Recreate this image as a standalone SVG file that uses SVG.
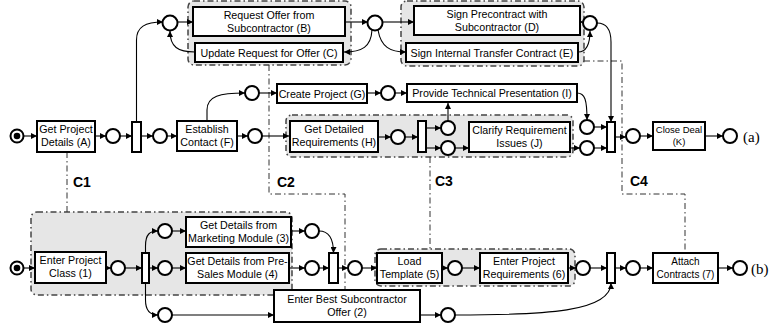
<svg xmlns="http://www.w3.org/2000/svg" width="779" height="336" viewBox="0 0 779 336">
<defs>
<marker id="ah" markerUnits="userSpaceOnUse" markerWidth="6" markerHeight="6" refX="6" refY="3" orient="auto">
<path d="M0,0 L6,3 L0,6 z" fill="#000"/>
</marker>
<style>
.grp{fill:#e6e6e6;stroke:#444;stroke-width:1.5;stroke-dasharray:6 3 1.5 3}
.link{fill:none;stroke:#333;stroke-width:1;stroke-dasharray:6 3 1.5 3}
.box{fill:#fff;stroke:#000;stroke-width:2}
.pl{fill:#fff;stroke:#000;stroke-width:2}
.bar{fill:#fff;stroke:#000;stroke-width:2}
.arc{fill:none;stroke:#000;stroke-width:1.1;marker-end:url(#ah)}
.t{font-family:"Liberation Sans",Arial,sans-serif;font-size:10.7px;text-anchor:middle;fill:#000}
.sm{font-size:9.5px}
.md{font-size:10px}
.lab{font-family:"Liberation Sans",Arial,sans-serif;font-size:14px;font-weight:bold;fill:#000}
.side{font-family:"Liberation Serif","Times New Roman",serif;font-size:15px;fill:#000}
</style>
</defs>
<rect width="779" height="336" fill="#fff"/>

<g id="groups">
<rect class="grp" x="188" y="1" width="163" height="64" rx="6"/>
<rect class="grp" x="401" y="1" width="183" height="65" rx="6"/>
<rect class="grp" x="286" y="115" width="287" height="42" rx="6"/>
<rect class="grp" x="31" y="212" width="261" height="83" rx="6"/>
<rect class="grp" x="375" y="249" width="200" height="37" rx="6"/>
</g>

<g id="correspondences">
<path class="link" d="M67,152 L67,212"/>
<path class="link" d="M269,65 L269,194 L345,194 L345,290"/>
<path class="link" d="M430,157 L430,249"/>
<path class="link" d="M584,61 L622,61 L622,194 L685,194 L685,252"/>
<text class="lab" x="73" y="187">C1</text>
<text class="lab" x="277" y="187">C2</text>
<text class="lab" x="435" y="186">C3</text>
<text class="lab" x="630" y="186">C4</text>
</g>

<g id="connectors">
<path class="arc" d="M24,136 L37,136"/>
<path class="arc" d="M95,136 L106,136"/>
<path class="arc" d="M120,136 L132,136"/>
<path class="arc" d="M141,136 L153,136"/>
<path class="arc" d="M167,136 L177,136"/>
<path class="arc" d="M237,136 L248,136"/>
<path class="arc" d="M262,136 L289,136"/>
<path class="arc" d="M136.5,122 L136.5,40 C136.5,27 145,22 163,22"/>
<path class="arc" d="M195,52 C178,52 170,47 170,31"/>
<path class="arc" d="M177,22 L193,22"/>
<path class="arc" d="M345,22 L368,22"/>
<path class="arc" d="M372,30 C371,47 362,52 344,52"/>
<path class="arc" d="M378,30 C381,47 390,52 406,52"/>
<path class="arc" d="M382,22 L414,22"/>
<path class="arc" d="M580,22 L583,22"/>
<path class="arc" d="M578,52 C586,52 590,45 590,31"/>
<path class="arc" d="M597,23 C607,23 611,30 611,42 L611,122"/>
<path class="arc" d="M207,121 L207,110 C207,96 220,93 245,93"/>
<path class="arc" d="M259,93 L277,93"/>
<path class="arc" d="M367,93 L381,93"/>
<path class="arc" d="M395,93 L407,93"/>
<path class="arc" d="M378,137 L391,137"/>
<path class="arc" d="M405,137 L418,137"/>
<path class="arc" d="M426,128 L441,128"/>
<path class="arc" d="M426,148 L441,148"/>
<path class="arc" d="M448,121 L448,103"/>
<path class="arc" d="M455,148 L469,148"/>
<path class="arc" d="M570,148 L580,148"/>
<path class="arc" d="M577,93 C585,93 587,100 587,120"/>
<path class="arc" d="M594,127 L607,127"/>
<path class="arc" d="M594,148 L607,148"/>
<path class="arc" d="M615,137 L626,137"/>
<path class="arc" d="M640,136 L653,136"/>
<path class="arc" d="M705,136 L723,136"/>
<path class="arc" d="M24,268 L35,268"/>
<path class="arc" d="M106,268 L111,268"/>
<path class="arc" d="M125,268 L142,268"/>
<path class="arc" d="M149,268 L158,268"/>
<path class="arc" d="M145.5,253 L145.5,246 C145.5,234 150,231 158,231"/>
<path class="arc" d="M145.5,283 L145.5,300 C145.5,311 150,315 158,315"/>
<path class="arc" d="M172,231 L186,231"/>
<path class="arc" d="M172,268 L186,268"/>
<path class="arc" d="M291,231 L305,231"/>
<path class="arc" d="M289,268 L305,268"/>
<path class="arc" d="M319,231 C328,231 333.5,238 333.5,253"/>
<path class="arc" d="M319,268 L329,268"/>
<path class="arc" d="M338,268 L348,268"/>
<path class="arc" d="M362,268 L377,268"/>
<path class="arc" d="M442,268 L448,268"/>
<path class="arc" d="M462,268 L480,268"/>
<path class="arc" d="M568,268 L576,268"/>
<path class="arc" d="M590,268 L607,268"/>
<path class="arc" d="M615,268 L626,268"/>
<path class="arc" d="M640,268 L653,268"/>
<path class="arc" d="M718,268 L733,268"/>
<path class="arc" d="M172,315 L274,315"/>
<path class="arc" d="M420,315 L441,315"/>
<path class="arc" d="M455,315 C545,315 611,312 611,283"/>
</g>

<g id="start-a"><circle class="pl" cx="17" cy="136" r="6.5"/><circle cx="17" cy="136" r="3.3" fill="#000"/></g>
<g id="A"><rect class="box" x="37" y="121" width="58" height="31"/><text class="t" x="66" y="133">Get Project</text><text class="t" x="66" y="146">Details (A)</text></g>
<g id="p-a1"><circle class="pl" cx="113" cy="136" r="7"/></g>
<g id="t-a1"><rect class="bar" x="132" y="122" width="9" height="30"/></g>
<g id="p-a2"><circle class="pl" cx="160" cy="136" r="7"/></g>
<g id="F"><rect class="box" x="177" y="121" width="60" height="30"/><text class="t" x="207" y="133">Establish</text><text class="t" x="207" y="146">Contact (F)</text></g>
<g id="p-a3"><circle class="pl" cx="255" cy="136" r="7"/></g>
<g id="p-a4"><circle class="pl" cx="170" cy="23" r="7.5"/></g>
<g id="B"><rect class="box" x="193" y="7" width="152" height="29"/><text class="t" x="269" y="19">Request Offer from</text><text class="t" x="269" y="32">Subcontractor (B)</text></g>
<g id="C"><rect class="box" x="195" y="43" width="148" height="19"/><text class="t" x="269" y="56.5">Update Request for Offer (C)</text></g>
<g id="p-a5"><circle class="pl" cx="375" cy="23" r="7.5"/></g>
<g id="D"><rect class="box" x="414" y="6" width="166" height="29"/><text class="t" x="497" y="18">Sign Precontract with</text><text class="t" x="497" y="31">Subcontractor (D)</text></g>
<g id="E"><rect class="box" x="406" y="43" width="172" height="19"/><text class="t" x="492" y="56.5">Sign Internal Transfer Contract (E)</text></g>
<g id="p-a6"><circle class="pl" cx="590" cy="23" r="7"/></g>
<g id="p-a7"><circle class="pl" cx="252" cy="93" r="7"/></g>
<g id="G"><rect class="box" x="277" y="84" width="90" height="19"/><text class="t" x="322" y="97.5">Create Project (G)</text></g>
<g id="p-a8"><circle class="pl" cx="388" cy="93" r="7"/></g>
<g id="I"><rect class="box" x="407" y="84" width="170" height="18"/><text class="t" x="492" y="97">Provide Technical Presentation (I)</text></g>
<g id="H"><rect class="box" x="290" y="121" width="88" height="31"/><text class="t" x="334" y="133">Get Detailed</text><text class="t" x="334" y="146">Requirements (H)</text></g>
<g id="p-a9"><circle class="pl" cx="398" cy="137" r="7"/></g>
<g id="t-a2"><rect class="bar" x="418" y="121" width="8" height="31"/></g>
<g id="p-a10"><circle class="pl" cx="448" cy="128" r="7"/></g>
<g id="p-a11"><circle class="pl" cx="448" cy="148" r="7"/></g>
<g id="J"><rect class="box" x="469" y="122" width="101" height="30"/><text class="t" x="519.5" y="134">Clarify Requirement</text><text class="t" x="519.5" y="147">Issues (J)</text></g>
<g id="p-a12"><circle class="pl" cx="587" cy="127" r="7"/></g>
<g id="p-a13"><circle class="pl" cx="587" cy="148" r="7"/></g>
<g id="t-a3"><rect class="bar" x="607" y="122" width="8" height="30"/></g>
<g id="p-a14"><circle class="pl" cx="633" cy="136" r="7"/></g>
<g id="K"><rect class="box" x="653" y="122" width="52" height="28"/><text class="t sm" x="679" y="133">Close Deal</text><text class="t sm" x="679" y="145">(K)</text></g>
<g id="end-a"><circle class="pl" cx="730" cy="136" r="7"/></g>
<text class="side" x="743" y="142">(a)</text>

<g id="start-b"><circle class="pl" cx="17" cy="268" r="6.5"/><circle cx="17" cy="268" r="3.3" fill="#000"/></g>
<g id="n1"><rect class="box" x="35" y="252" width="71" height="31"/><text class="t" x="70.5" y="264">Enter Project</text><text class="t" x="70.5" y="277">Class (1)</text></g>
<g id="p-b1"><circle class="pl" cx="118" cy="268" r="7"/></g>
<g id="t-b1"><rect class="bar" x="142" y="253" width="7" height="30"/></g>
<g id="p-b2"><circle class="pl" cx="165" cy="231" r="7"/></g>
<g id="p-b3"><circle class="pl" cx="165" cy="268" r="7"/></g>
<g id="p-b4"><circle class="pl" cx="165" cy="315" r="7"/></g>
<g id="n3"><rect class="box" x="186" y="217" width="105" height="30"/><text class="t" x="238.5" y="229">Get Details from</text><text class="t" x="238.5" y="242">Marketing Module (3)</text></g>
<g id="n4"><rect class="box" x="186" y="253" width="103" height="30"/><text class="t" x="237.5" y="265">Get Details from Pre-</text><text class="t" x="237.5" y="278">Sales Module (4)</text></g>
<g id="p-b5"><circle class="pl" cx="312" cy="231" r="7"/></g>
<g id="p-b6"><circle class="pl" cx="312" cy="268" r="7"/></g>
<g id="t-b2"><rect class="bar" x="329" y="253" width="9" height="30"/></g>
<g id="p-b7"><circle class="pl" cx="355" cy="268" r="7"/></g>
<g id="n5"><rect class="box" x="377" y="253" width="65" height="30"/><text class="t" x="409.5" y="265">Load</text><text class="t" x="409.5" y="278">Template (5)</text></g>
<g id="p-b8"><circle class="pl" cx="455" cy="268" r="7"/></g>
<g id="n6"><rect class="box" x="480" y="253" width="88" height="30"/><text class="t" x="524" y="265">Enter Project</text><text class="t" x="524" y="278">Requirements (6)</text></g>
<g id="p-b9"><circle class="pl" cx="583" cy="268" r="7"/></g>
<g id="t-b3"><rect class="bar" x="607" y="253" width="8" height="30"/></g>
<g id="p-b10"><circle class="pl" cx="633" cy="268" r="7"/></g>
<g id="n7"><rect class="box" x="653" y="253" width="65" height="30"/><text class="t md" x="685.5" y="265">Attach</text><text class="t md" x="685.5" y="278">Contracts (7)</text></g>
<g id="end-b"><circle class="pl" cx="740" cy="268" r="7"/></g>
<g id="n2"><rect class="box" x="274" y="290" width="146" height="32"/><text class="t" x="347" y="303">Enter Best Subcontractor</text><text class="t" x="347" y="316">Offer (2)</text></g>
<g id="p-b11"><circle class="pl" cx="448" cy="315" r="7"/></g>
<text class="side" x="751" y="274">(b)</text>
</svg>
